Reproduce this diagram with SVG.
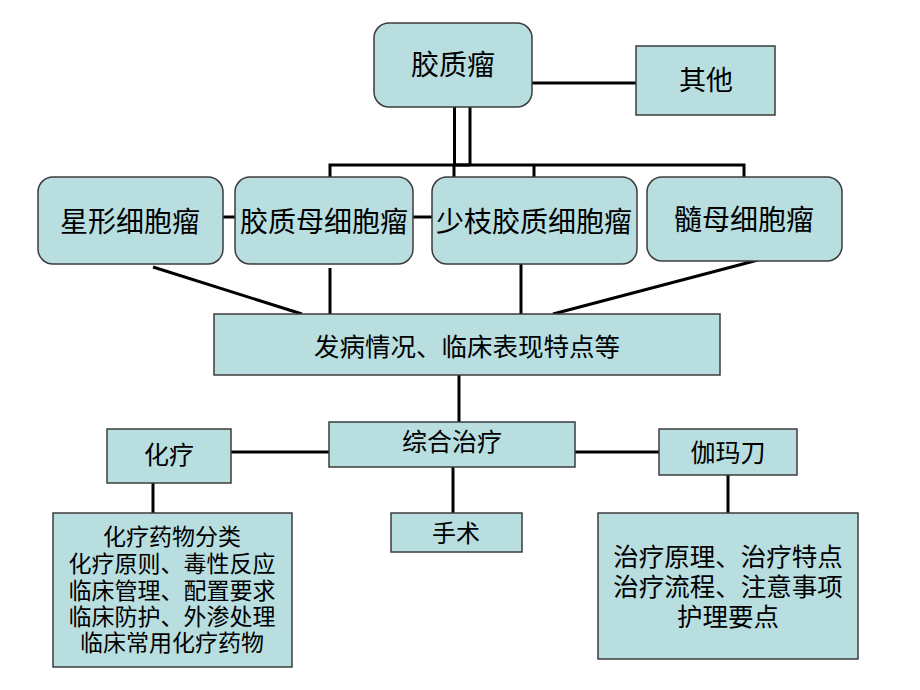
<svg xmlns="http://www.w3.org/2000/svg" width="920" height="690" viewBox="0 0 920 690">
<style>
.n{fill:#B8DEE0;stroke:#3c3c3c;stroke-width:1.5}
.t{font-family:"Liberation Sans","Noto Sans CJK SC",sans-serif;fill:#000;text-anchor:middle;dominant-baseline:central}
.c{stroke:#000;fill:none;stroke-width:3}
</style>
<rect width="920" height="690" fill="#fff"/>
<g id="connectors">
<line class="c" x1="532" y1="83" x2="636" y2="83"/>
<line class="c" x1="454.5" y1="107" x2="454.5" y2="166" stroke-width="4.5"/>
<line class="c" x1="470" y1="107" x2="470" y2="166" stroke-width="2.5"/>
<polyline class="c" points="330,177 330,165 744,165 744,177" stroke-width="2.5"/>
<line class="c" x1="454" y1="165" x2="470" y2="165" stroke-width="3.5"/>
<line class="c" x1="454" y1="165" x2="454" y2="177" stroke-width="2.5"/>
<line class="c" x1="534" y1="165" x2="534" y2="177" stroke-width="2.5"/>
<line class="c" x1="223" y1="217" x2="235" y2="217"/>
<line class="c" x1="413" y1="217" x2="432" y2="217"/>
<line class="c" x1="153" y1="267" x2="302" y2="314"/>
<line class="c" x1="330" y1="268" x2="330" y2="314"/>
<line class="c" x1="521" y1="261" x2="521" y2="314"/>
<line class="c" x1="758" y1="260" x2="553" y2="314"/>
<line class="c" x1="459" y1="375" x2="459" y2="422"/>
<line class="c" x1="231" y1="452" x2="329" y2="452"/>
<line class="c" x1="575" y1="452" x2="659" y2="452"/>
<line class="c" x1="153" y1="483" x2="153" y2="513" stroke-width="1.5"/>
<line class="c" x1="453" y1="467" x2="453" y2="513"/>
<line class="c" x1="728" y1="475" x2="728" y2="513"/>
</g>
<g id="n-jzl"><rect class="n" x="374" y="23" width="158" height="84" rx="15"/><text class="t" x="453" y="65" font-size="28">胶质瘤</text></g>
<g id="n-qt"><rect class="n" x="636" y="46" width="139" height="69"/><text class="t" x="706" y="81" font-size="27">其他</text></g>
<g id="n-xx"><rect class="n" x="38" y="177" width="185" height="87" rx="15"/><text class="t" x="130" y="222" font-size="28">星形细胞瘤</text></g>
<g id="n-jzm"><rect class="n" x="235" y="177" width="178" height="87" rx="15"/><text class="t" x="324" y="222" font-size="28">胶质母细胞瘤</text></g>
<g id="n-sz"><rect class="n" x="432" y="177" width="205" height="87" rx="15"/><text class="t" x="534" y="222" font-size="28">少枝胶质细胞瘤</text></g>
<g id="n-sm"><rect class="n" x="647" y="177" width="195" height="84" rx="15"/><text class="t" x="744" y="220" font-size="28">髓母细胞瘤</text></g>
<g id="n-fb"><rect class="n" x="214" y="314" width="506" height="61"/><text class="t" x="467" y="347" font-size="25.5">发病情况、临床表现特点等</text></g>
<g id="n-zh"><rect class="n" x="329" y="422" width="246" height="45"/><text class="t" x="452" y="442" font-size="25">综合治疗</text></g>
<g id="n-hl"><rect class="n" x="107" y="429" width="124" height="54"/><text class="t" x="169" y="455" font-size="25">化疗</text></g>
<g id="n-ss"><rect class="n" x="391" y="513" width="131" height="39"/><text class="t" x="456" y="533" font-size="24">手术</text></g>
<g id="n-gmd"><rect class="n" x="659" y="429" width="138" height="46"/><text class="t" x="728" y="453" font-size="25">伽玛刀</text></g>
<g id="n-hlx"><rect class="n" x="53" y="513" width="239" height="154"/>
<text class="t" font-size="23"><tspan x="172" y="537">化疗药物分类</tspan><tspan x="172" y="564">化疗原则、毒性反应</tspan><tspan x="172" y="591">临床管理、配置要求</tspan><tspan x="172" y="617">临床防护、外渗处理</tspan><tspan x="172" y="643">临床常用化疗药物</tspan></text></g>
<g id="n-gmx"><rect class="n" x="598" y="513" width="260" height="146"/>
<text class="t" font-size="25.5"><tspan x="728" y="557">治疗原理、治疗特点</tspan><tspan x="728" y="587">治疗流程、注意事项</tspan><tspan x="728" y="617">护理要点</tspan></text></g>
</svg>
